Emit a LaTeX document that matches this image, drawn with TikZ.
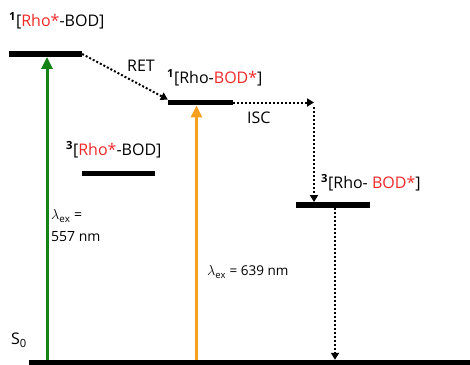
\documentclass[tikz,border=0pt]{standalone}
\usepackage{fontspec}
\setmainfont{Open Sans}
\usetikzlibrary{arrows.meta}
\definecolor{myred}{RGB}{240,40,40}
\definecolor{mygreen}{RGB}{20,130,20}
\definecolor{myorange}{RGB}{245,160,30}
\begin{document}
\begin{tikzpicture}[x=1pt,y=-1pt,
  level/.style={fill=black,inner sep=0pt,minimum height=5.5pt},
  lbl/.style={inner sep=0pt,anchor=west,font=\fontsize{16}{18}\selectfont},
  dotarrow/.style={line width=2pt,dash pattern=on 2pt off 2pt,-{Triangle[length=7pt,width=8pt]}},
  excite/.style={line width=3pt,-{Triangle[length=12pt,width=11pt]}}]
\useasboundingbox (0,0) rectangle (470,364);
% levels
\node[level,minimum width=73pt] (s1r) at (45.5,54) {};
\node[level,minimum width=65pt] (s1b) at (200.5,102.5) {};
\node[level,minimum width=73pt] (t1r) at (118.5,173.5) {};
\node[level,minimum width=74pt] (t1b) at (333,205) {};
\node[level,minimum width=450pt,minimum height=6pt,anchor=west] (s0) at (29,363) {};
% labels
\node[lbl] (l1) at (9,21) {\textsuperscript{\bfseries 1}[\textcolor{myred}{Rho*}-BOD]};
\node[lbl] (l2) at (167,78) {\textsuperscript{\bfseries 1}[Rho-\textcolor{myred}{BOD*}]};
\node[lbl] (l3) at (66,150) {\textsuperscript{\bfseries 3}[\textcolor{myred}{Rho*}-BOD]};
\node[lbl] (l4) at (321,183) {\textsuperscript{\bfseries 3}[Rho- \textcolor{myred}{BOD*}]};
\node[lbl] (ret) at (127,66) {RET};
\node[lbl] (isc) at (247,118) {ISC};
\node[lbl] (s0l) at (11,340) {S\textsubscript{0}};
\node[lbl,align=left,font=\fontsize{14}{22}\selectfont] (ex1) at (51,226) {$\lambda_{\mathrm{ex}}$ =\\557 nm};
\node[lbl,font=\fontsize{13.5}{16}\selectfont] (ex2) at (207,272) {$\lambda_{\mathrm{ex}}$ = 639 nm};
% excitation arrows
\coordinate (g0) at (47,360);
\coordinate (o0) at (196.5,360);
\draw[excite,mygreen] (g0) -- (g0 |- s1r.south);
\draw[excite,myorange] (o0) -- (o0 |- s1b.south);
% transfer arrows
\draw[dotarrow] (s1r.east) -- (s1b.north west);
\coordinate (c1) at (314,102.5);
\coordinate (c2) at (314,107);
\draw[dotarrow] (s1b.east) -- (c1);
\draw[dotarrow] (c2) -- (c2 |- t1b.north);
\coordinate (c3) at (335,208);
\draw[dotarrow] (c3) -- (c3 |- s0.north);
\end{tikzpicture}
\end{document}
